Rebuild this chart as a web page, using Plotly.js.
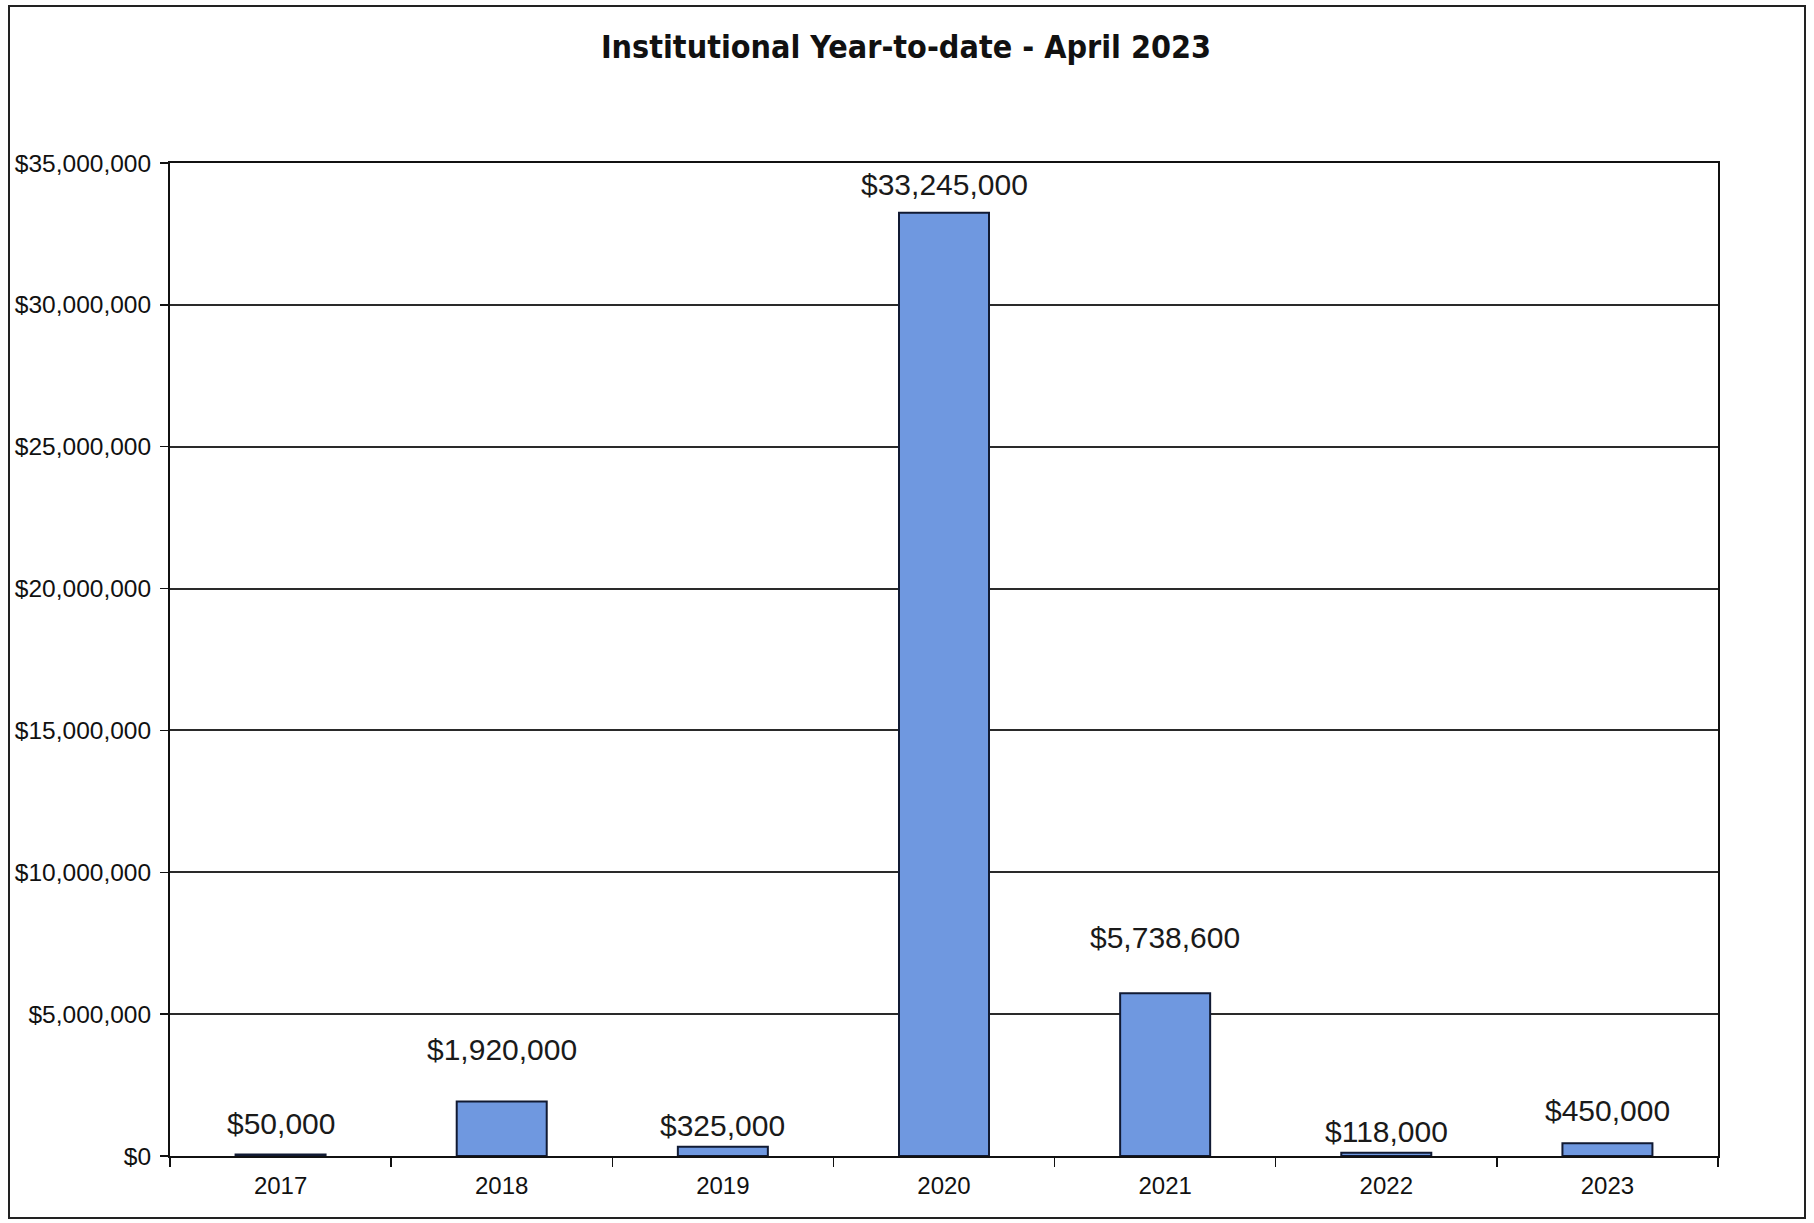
<!DOCTYPE html>
<html>
<head>
<meta charset="utf-8">
<script src="https://cdn.plot.ly/plotly-3.0.1.min.js"></script>
<style>
  html, body { margin: 0; padding: 0; background: #ffffff; }
  #chart { width: 1814px; height: 1223px; }
</style>
</head>
<body>
<div id="chart"></div>
<script>
// ---- data ----
const years = ["2017", "2018", "2019", "2020", "2021", "2022", "2023"];
const amounts = [50000, 1920000, 325000, 33245000, 5738600, 118000, 450000];
const labels = ["$50,000", "$1,920,000", "$325,000", "$33,245,000", "$5,738,600", "$118,000", "$450,000"];
const chartTitle = "Institutional Year-to-date - April 2023";

// ---- label vertical offsets (style, px above bar top) ----
const labelLift = [31, 52, 21, 28, 56, 21, 33];

const baseFont = "Liberation Sans, Arial, Helvetica, sans-serif";
const narrowBold = "Liberation Sans Narrow, Arial Narrow, DejaVu Sans Condensed, sans-serif";

const trace = {
  type: "bar",
  x: years,
  y: amounts,
  marker: { color: "#6f98e0", line: { color: "#111a33", width: 2 } },
  hoverinfo: "x+y"
};

// annotations placed by category index on the category axis
const annotations = years.map((yr, i) => ({
  x: i, y: amounts[i], xref: "x", yref: "y",
  text: labels[i], showarrow: false,
  xanchor: "center", yanchor: "middle",
  yshift: labelLift[i],
  font: { family: baseFont, size: 30, color: "#1a1a1a" }
}));

const W = 1814, H = 1223, L = 170, R = 96, T = 163, B = 67;
const pw = W - L - R, ph = H - T - B;
const px = v => (v - L) / pw;
const py = v => (H - B - v) / ph;

const layout = {
  width: W, height: H,
  margin: { l: L, r: R, t: T, b: B, pad: 0 },
  paper_bgcolor: "#ffffff",
  plot_bgcolor: "#ffffff",
  showlegend: false,
  bargap: 0.593,
  title: {
    text: "<b>" + chartTitle + "</b>",
    font: { family: narrowBold, size: 32, color: "#111111" },
    x: 906 / W, xref: "container", xanchor: "center",
    y: 1 - 47 / H, yref: "container", yanchor: "middle"
  },
  xaxis: {
    type: "category",
    categoryorder: "array", categoryarray: years,
    range: [-0.5, years.length - 0.5],
    tickson: "boundaries",
    ticks: "outside", ticklen: 9, tickwidth: 1.5, tickcolor: "#111111",
    ticklabelstandoff: 7,
    showline: true, linecolor: "#111111", linewidth: 2, mirror: true,
    showgrid: false,
    tickfont: { family: baseFont, size: 24, color: "#111111" },
    fixedrange: true
  },
  yaxis: {
    range: [0, 35000000],
    dtick: 5000000, tick0: 0,
    tickprefix: "$", tickformat: ",.0f",
    ticks: "outside", ticklen: 8, tickwidth: 1.5, tickcolor: "#111111",
    ticklabelstandoff: 4,
    showline: true, linecolor: "#111111", linewidth: 2, mirror: true,
    showgrid: true, gridcolor: "#2a2a2a", gridwidth: 2,
    zeroline: false,
    tickfont: { family: baseFont, size: 24.5, color: "#111111" },
    fixedrange: true
  },
  annotations: annotations,
  shapes: [{
    type: "rect", xref: "paper", yref: "paper",
    x0: px(9), x1: px(1805), y0: py(1218), y1: py(6),
    line: { color: "#222222", width: 2 }, fillcolor: "rgba(0,0,0,0)", layer: "below"
  }]
};

Plotly.newPlot("chart", [trace], layout, { displayModeBar: false, staticPlot: true });
</script>
</body>
</html>
